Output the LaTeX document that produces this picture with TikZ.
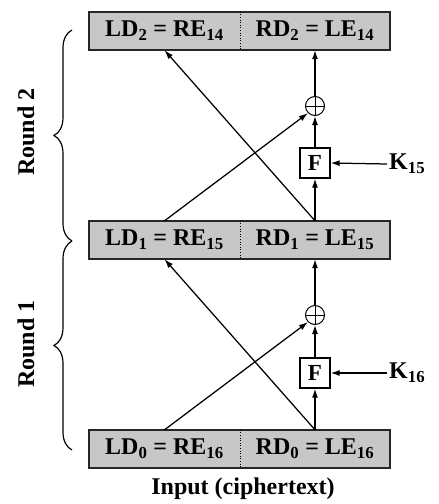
\documentclass[tikz,border=0pt]{standalone}
\usepackage{fontspec}
\setmainfont{Liberation Serif}
\usetikzlibrary{decorations.pathreplacing,arrows.meta,calc}
\begin{document}
\begin{tikzpicture}[x=1pt,y=-1pt,
  half/.style={fill=black!22, minimum height=38pt, inner sep=0pt, font=\bfseries\fontsize{24}{25}\selectfont},
  outer/.style={draw=black!85, line width=1.6pt},
  fbox/.style={draw, line width=1.3pt, fill=white, minimum width=30pt, minimum height=30pt, inner sep=0pt, font=\bfseries\fontsize{23}{24}\selectfont},
  xor/.style={draw, line width=1pt, circle, minimum size=19pt, inner sep=0pt, fill=white},
  arr/.style={line width=1.25pt, -{Latex[length=9pt,width=6pt]}},
  lbl/.style={font=\bfseries\fontsize{24}{26}\selectfont},
  brc/.style={decorate, decoration={brace, amplitude=18pt}, line width=1.2pt}
]
\useasboundingbox (0,0) rectangle (439,504);

% boxes
\foreach \n/\y/\a/\b in {2/31/2/14, 1/240/1/15, 0/449/0/16}{
  \node[half, minimum width=151pt] (L\n) at (164.5,\y) {LD\textsubscript{\a} = RE\textsubscript{\b}};
  \node[half, minimum width=150pt] (R\n) at (315,\y) {RD\textsubscript{\a} = LE\textsubscript{\b}};
  \draw[outer] (L\n.north west) rectangle (R\n.south east);
  \draw[dotted, line width=0.6pt] (L\n.north east) -- (L\n.south east);
}

% round 2
\node[fbox] (F2) at (315,163) {F};
\node[xor] (X2) at (315,106) {};
\draw[line width=1pt] (X2.north) -- (X2.south) (X2.west) -- (X2.east);
\node[lbl, anchor=west, inner sep=0pt] (K2) at (389,164) {K\textsubscript{15}};
\draw[arr] (R1.north) -- (F2.south);
\draw[arr] (F2.north) -- (X2.south);
\draw[arr] (X2.north) -- (R2.south);
\draw[arr] ([xshift=-2pt]K2.west) -- (F2.east);
\draw[arr] (L1.north) -- (X2.south west);
\draw[arr] (R1.north) -- (L2.south);

% round 1
\node[fbox] (F1) at (315,373) {F};
\node[xor] (X1) at (315,315) {};
\draw[line width=1pt] (X1.north) -- (X1.south) (X1.west) -- (X1.east);
\node[lbl, anchor=west, inner sep=0pt] (K1) at (389,373) {K\textsubscript{16}};
\draw[arr] (R0.north) -- (F1.south);
\draw[arr] (F1.north) -- (X1.south);
\draw[arr] (X1.north) -- (R1.south);
\draw[arr] ([xshift=-2pt]K1.west) -- (F1.east);
\draw[arr] (L0.north) -- (X1.south west);
\draw[arr] (R0.north) -- (L1.south);

% braces
\coordinate (b2t) at (72,30);
\coordinate (b2b) at (72,241);
\coordinate (b1b) at (72,450);
\draw[brc] (b2b) -- (b2t);
\draw[brc] (b1b) -- (b2b);
\node[lbl, rotate=90] (r2) at (26,132) {Round 2};
\node[lbl, rotate=90] (r1) at (26,344) {Round 1};

\node[lbl] (inp) at (243,489) {Input (ciphertext)};
\end{tikzpicture}
\end{document}
